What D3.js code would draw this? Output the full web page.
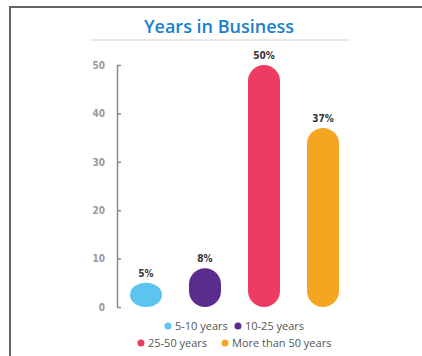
<!DOCTYPE html>
<meta charset="utf-8">
<script src="https://d3js.org/d3.v7.min.js"></script>
<style>
body { margin: 0; background: #fff; }
svg { display: block; }
.tick text { font-family: "DejaVu Sans Condensed", "DejaVu Sans", sans-serif; font-weight: bold; font-size: 10px; fill: #999; }
</style>
<svg width="422" height="356"></svg>
<script>
const categories = ['5-10 years', '10-25 years', '25-50 years', 'More than 50 years'];
const values = [5, 8, 50, 37];
const colors = ['#5cc4ee', '#5a2c8e', '#ee3b61', '#f4a521'];
const yTicks = [0, 10, 20, 30, 40, 50];

const svg = d3.select('svg');

// frame
svg.append('path')
  .attr('d', 'M10,356 V7 H422')
  .attr('fill', 'none')
  .attr('stroke', '#666')
  .attr('stroke-width', 2);

svg.append('text')
  .attr('x', 219).attr('y', 33)
  .attr('text-anchor', 'middle')
  .attr('font-family', 'Open Sans, sans-serif')
  .attr('font-weight', 600)
  .attr('font-size', 18)
  .attr('fill', '#1b7fc9')
  .text('Years in Business');

svg.append('line')
  .attr('x1', 90).attr('x2', 350).attr('y1', 40).attr('y2', 40)
  .attr('stroke', '#ddd3c9').attr('stroke-width', 1);

const x = d3.scaleBand()
  .domain(categories)
  .range([117, 352])
  .paddingInner(0.457)
  .paddingOuter(0.22);

const y = d3.scaleLinear().domain([0, 50]).range([307, 65]);

const axis = svg.append('g')
  .attr('transform', 'translate(117,0)')
  .call(d3.axisLeft(y).tickValues(yTicks).tickSizeInner(-4).tickSizeOuter(0).tickPadding(12));
axis.select('.domain').attr('stroke', '#8a8a8a').attr('stroke-width', 1.5);
axis.selectAll('.tick line').attr('stroke', '#8a8a8a').attr('stroke-width', 1.5);

const bw = x.bandwidth();
svg.selectAll('rect.bar')
  .data(values)
  .enter()
  .append('rect')
  .attr('class', 'bar')
  .attr('x', (d, i) => x(categories[i]))
  .attr('y', d => y(d))
  .attr('width', bw)
  .attr('height', d => y(0) - y(d))
  .attr('rx', bw / 2)
  .attr('ry', d => Math.min(bw / 2, (y(0) - y(d)) / 2))
  .attr('fill', (d, i) => colors[i]);

svg.selectAll('text.val')
  .data(values)
  .enter()
  .append('text')
  .attr('class', 'val')
  .attr('x', (d, i) => x(categories[i]) + bw / 2)
  .attr('y', d => y(d) - 6)
  .attr('text-anchor', 'middle')
  .attr('font-family', 'DejaVu Sans Condensed, DejaVu Sans, sans-serif')
  .attr('font-weight', 'bold')
  .attr('font-size', 10)
  .attr('fill', '#333')
  .text(d => d + '%');

// legend, two rows
const legendRows = [[0, 1], [2, 3]];
const legendX = [[168, 238], [141, 225]];
const legendY = [326, 343];
legendRows.forEach((row, r) => {
  row.forEach((idx, k) => {
    const g = svg.append('g').attr('transform', `translate(${legendX[r][k]},${legendY[r]})`);
    g.append('circle').attr('r', 3.5).attr('fill', colors[idx]);
    g.append('text')
      .attr('x', 7).attr('y', 4)
      .attr('font-family', 'Open Sans, sans-serif')
      .attr('font-size', 11)
      .attr('fill', '#555')
      .text(categories[idx]);
  });
});
</script>
